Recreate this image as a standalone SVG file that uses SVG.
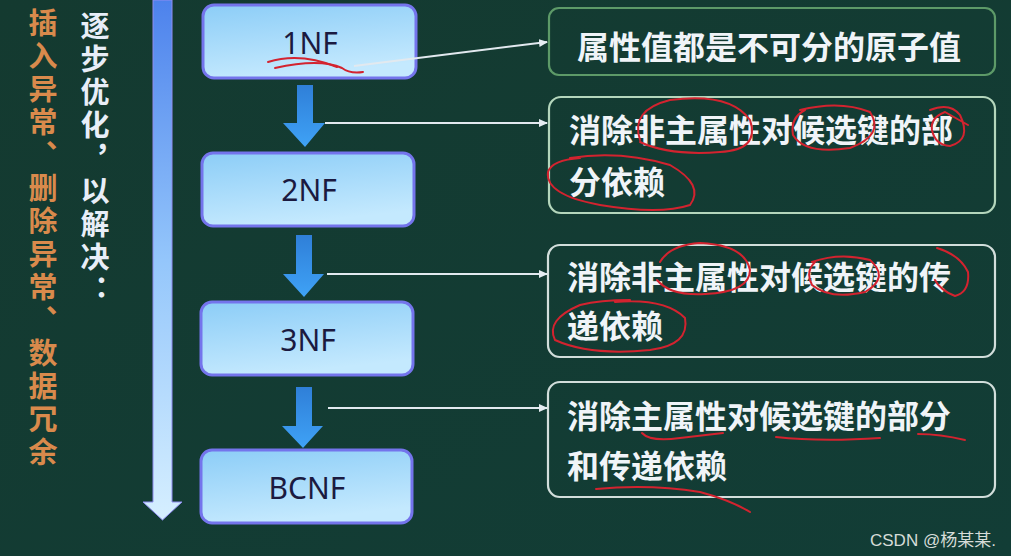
<svg xmlns="http://www.w3.org/2000/svg" width="1011" height="556" viewBox="0 0 1011 556">
<defs>
  <linearGradient id="bg" x1="0" y1="0" x2="1" y2="1">
    <stop offset="0" stop-color="#143a30"/>
    <stop offset="1" stop-color="#123d36"/>
  </linearGradient>
  <linearGradient id="bigArrow" x1="0" y1="0" x2="0" y2="520" gradientUnits="userSpaceOnUse">
    <stop offset="0" stop-color="#4d82ec"/>
    <stop offset="0.5" stop-color="#94c6fb"/>
    <stop offset="1" stop-color="#d6efff"/>
  </linearGradient>
  <linearGradient id="nodeFill" x1="0" y1="0" x2="0.3" y2="1">
    <stop offset="0" stop-color="#8ccdf7"/>
    <stop offset="1" stop-color="#c4e9fe"/>
  </linearGradient>
  <linearGradient id="stepArrow" x1="0" y1="0" x2="0" y2="1">
    <stop offset="0" stop-color="#2f7fd8"/>
    <stop offset="1" stop-color="#3fa2f6"/>
  </linearGradient>
  <marker id="ah" markerWidth="10" markerHeight="10" refX="8" refY="4" orient="auto" markerUnits="userSpaceOnUse">
    <path d="M0,0 L9,4 L0,8 Z" fill="#e6edf2"/>
  </marker>
</defs>
<style>
  .node rect { fill: url(#nodeFill); stroke: #7474ec; stroke-width: 3; }
  .node text { font-family: "Noto Sans", "Liberation Sans", sans-serif; font-size: 30px; fill: #1b1a40; text-anchor: middle; dominant-baseline: central; }
  .desc rect { fill: none; stroke-width: 2.2; }
  .desc text { font-family: "Noto Sans CJK SC", "Noto Sans", sans-serif; font-size: 32px; font-weight: bold; fill: #f0f4f8; dominant-baseline: central; }
  .conn { stroke: #e2e9ef; stroke-width: 2; fill: none; marker-end: url(#ah); }
  .step { fill: url(#stepArrow); }
  .red { fill: none; stroke: #d3232f; stroke-width: 2; stroke-linecap: round; }
  .vert { font-family: "Noto Sans CJK SC", sans-serif; font-size: 29px; font-weight: bold; writing-mode: vertical-rl; letter-spacing: 4px; }
</style>
<rect x="0" y="0" width="1011" height="556" fill="url(#bg)"/>

<!-- left vertical texts -->
<g id="problems">
  <text class="vert" x="43" y="8" fill="#d98a4c">插入异常、删除异常、数据冗余</text>
</g>
<g id="optimize">
  <text class="vert" x="95" y="11" fill="#e8eef8">逐步优化，以解决：</text>
</g>

<!-- big progression arrow -->
<g id="progress-arrow">
  <path d="M153,0 L172,0 L172,502 L182,502 L162.5,520 L143,502 L153,502 Z" fill="url(#bigArrow)" stroke="#8f8cf0" stroke-width="1"/>
</g>

<!-- normal form nodes -->
<g id="node-1nf" class="node">
  <rect x="203" y="5" width="213" height="73" rx="11"/>
  <text x="310" y="42">1NF</text>
</g>
<g id="node-2nf" class="node">
  <rect x="202" y="153" width="212" height="73" rx="11"/>
  <text x="309" y="189">2NF</text>
</g>
<g id="node-3nf" class="node">
  <rect x="201" y="302" width="212" height="73" rx="11"/>
  <text x="308" y="339">3NF</text>
</g>
<g id="node-bcnf" class="node">
  <rect x="201" y="450" width="211" height="73" rx="11"/>
  <text x="307" y="487">BCNF</text>
</g>

<!-- step arrows between nodes -->
<g id="step-arrows">
  <path class="step" d="M297,85 L313,85 L313,123 L325,123 L305,147 L283,123 L297,123 Z"/>
  <path class="step" d="M296,235 L312,235 L312,274 L324,274 L304,297 L283,274 L296,274 Z"/>
  <path class="step" d="M296,387 L312,387 L312,426 L323,426 L303,448 L282,426 L296,426 Z"/>
</g>

<!-- description boxes -->
<g id="desc-1nf" class="desc">
  <rect x="549" y="8" width="446" height="67" rx="10" stroke="#5d9a68"/>
  <text x="577" y="45">属性值都是不可分的原子值</text>
</g>
<g id="desc-2nf" class="desc">
  <rect x="549" y="97" width="446" height="116" rx="12" stroke="#b4d6bc"/>
  <text x="569" y="128">消除非主属性对候选键的部</text>
  <text x="569" y="180">分依赖</text>
</g>
<g id="desc-3nf" class="desc">
  <rect x="548" y="245" width="447" height="112" rx="12" stroke="#d2dedb"/>
  <text x="567" y="275">消除非主属性对候选键的传</text>
  <text x="567" y="324">递依赖</text>
</g>
<g id="desc-bcnf" class="desc">
  <rect x="548" y="382" width="447" height="115" rx="12" stroke="#d2dedb"/>
  <text x="567" y="414">消除主属性对候选键的部分</text>
  <text x="567" y="464">和传递依赖</text>
</g>

<!-- connectors -->
<g id="connectors">
  <line class="conn" x1="354" y1="66" x2="547" y2="42"/>
  <line class="conn" x1="325" y1="123" x2="547" y2="123"/>
  <line class="conn" x1="327" y1="274" x2="547" y2="274"/>
  <line class="conn" x1="328" y1="408" x2="547" y2="408"/>
</g>

<!-- red handwritten annotations -->
<g id="annotations">
  <path class="red" d="M268,62 Q300,52 337,67"/>
  <path class="red" d="M275,68 Q320,58 342,68 Q350,74 363,72"/>
  <path class="red" d="M640,140 Q630,110 670,100 Q730,92 750,120 Q760,150 720,152 Q670,156 640,142"/>
  <path class="red" d="M800,110 Q840,100 870,112 Q885,135 850,148 Q805,155 793,135 Q790,118 805,110"/>
  <path class="red" d="M930,110 Q950,102 960,115 Q972,140 950,146 Q935,145 932,130 Q930,118 945,112 L968,125"/>
  <path class="red" d="M570,158 Q620,150 670,165 Q705,185 690,205 Q660,215 600,205 Q545,195 548,172 Q552,160 580,158"/>
  <path class="red" d="M660,262 Q670,245 700,243 Q745,245 750,270 Q750,292 705,294 Q670,296 657,280"/>
  <path class="red" d="M812,262 Q840,252 870,260 Q890,278 865,292 Q830,300 812,285 Q805,272 815,262"/>
  <path class="red" d="M937,248 Q960,255 968,272 Q970,292 955,296 Q940,290 935,280"/>
  <path class="red" d="M615,302 Q665,298 685,318 Q690,345 650,350 Q590,356 555,340 Q545,320 580,305 Q600,300 630,300"/>
  <path class="red" d="M642,433 Q650,442 680,438 L723,433"/>
  <path class="red" d="M776,437 Q820,442 880,438"/>
  <path class="red" d="M918,434 Q940,434 965,440"/>
  <path class="red" d="M596,489 Q650,484 700,492 Q730,500 750,512"/>
</g>

<text x="870" y="546" font-family="'Liberation Sans', 'Noto Sans CJK SC', sans-serif" font-size="17" fill="#d6dcd8">CSDN @杨某某.</text>
</svg>
